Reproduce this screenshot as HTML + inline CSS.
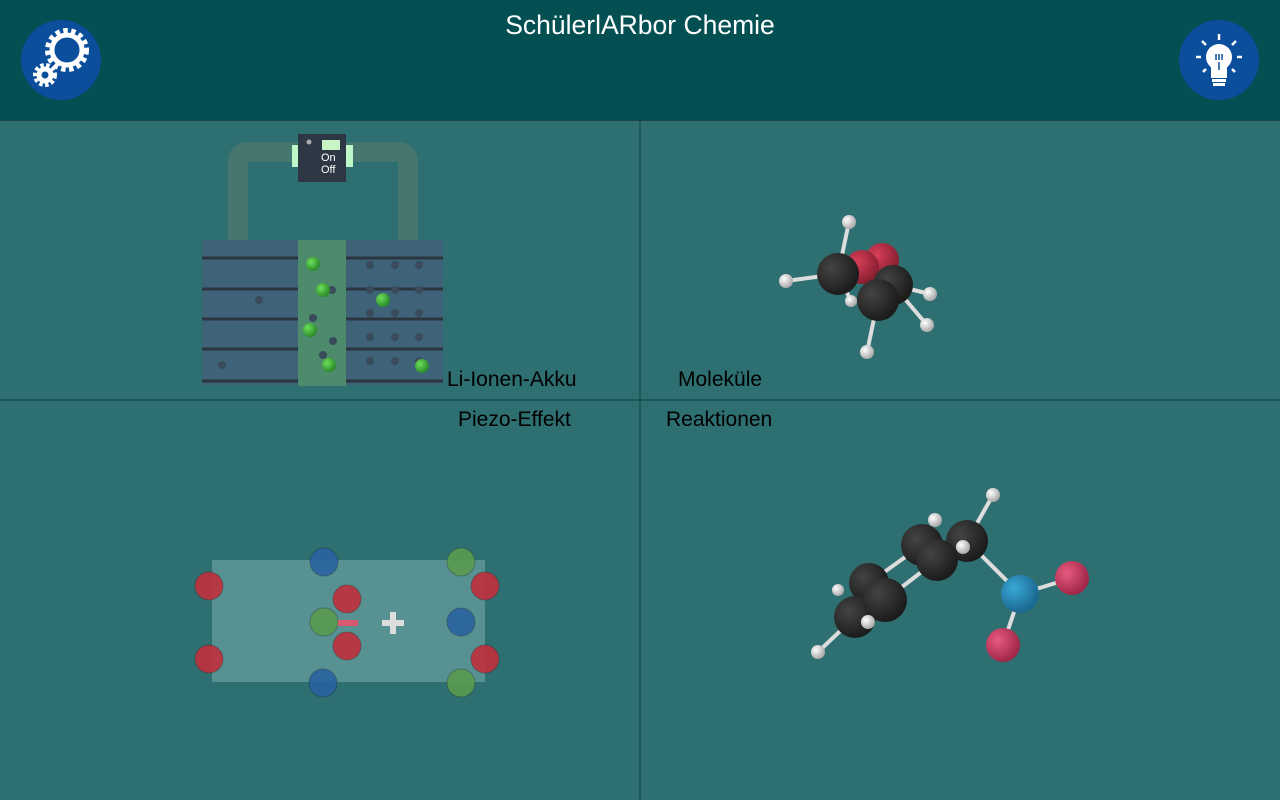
<!DOCTYPE html>
<html><head><meta charset="utf-8"><style>
html,body{margin:0;padding:0;width:1280px;height:800px;overflow:hidden;background:#2e6f71;font-family:"Liberation Sans",sans-serif}
.hdr{position:absolute;left:0;top:0;width:1280px;height:120px;background:#034f52;border-bottom:1px solid #1e4446}
.t{position:absolute;left:0;width:1280px;text-align:center;top:10px;color:#fff;font-size:26.5px}
.lbl{position:absolute;font-size:21px;color:#000}
</style></head><body>
<div class="hdr"></div>
<div class="t">SchülerlARbor Chemie</div>
<svg width="1280" height="800" style="position:absolute;left:0;top:0">
<defs>
<radialGradient id="bk" cx="35%" cy="35%" r="65%"><stop offset="0" stop-color="#444"/><stop offset="1" stop-color="#1c1c1c"/></radialGradient>
<radialGradient id="rd" cx="35%" cy="35%" r="65%"><stop offset="0" stop-color="#d8405a"/><stop offset="1" stop-color="#8a1e30"/></radialGradient>
<radialGradient id="pk" cx="35%" cy="35%" r="65%"><stop offset="0" stop-color="#e85a80"/><stop offset="1" stop-color="#a02848"/></radialGradient>
<radialGradient id="wh" cx="35%" cy="35%" r="65%"><stop offset="0" stop-color="#fff"/><stop offset="1" stop-color="#aaa"/></radialGradient>
<radialGradient id="bl" cx="35%" cy="35%" r="65%"><stop offset="0" stop-color="#3aa8d8"/><stop offset="1" stop-color="#1a6890"/></radialGradient>
<radialGradient id="gr" cx="35%" cy="35%" r="65%"><stop offset="0" stop-color="#6ee05a"/><stop offset="1" stop-color="#2a8a2a"/></radialGradient>
</defs>
<line x1="640" y1="121" x2="640" y2="800" stroke="#1f5658" stroke-width="2"/>
<line x1="0" y1="400" x2="1280" y2="400" stroke="#1f5658" stroke-width="2"/>
<!-- settings icon -->
<circle cx="61" cy="60" r="40" fill="#0a4e9c"/>
<g fill="none" stroke="#fff">
<circle cx="67" cy="50" r="15" stroke-width="5"/>
<circle cx="67" cy="50" r="19.5" stroke-width="5" stroke-dasharray="4.5 3.5"/>
<circle cx="45" cy="75" r="6" stroke-width="5"/>
<circle cx="45" cy="75" r="10" stroke-width="4" stroke-dasharray="3.5 2.5"/>
</g>
<!-- bulb icon -->
<circle cx="1219" cy="60" r="40" fill="#0a4e9c"/>
<circle cx="1219" cy="57" r="13" fill="#fff"/>
<rect x="1211" y="64" width="16" height="14" fill="#fff"/>
<rect x="1212" y="79" width="14" height="3" fill="#fff"/><rect x="1213" y="83" width="12" height="3" fill="#fff"/>
<g stroke="#fff" stroke-width="2.5"><line x1="1219" y1="34" x2="1219" y2="40"/><line x1="1202" y1="41" x2="1206" y2="45"/><line x1="1236" y1="41" x2="1232" y2="45"/><line x1="1196" y1="57" x2="1201" y2="57"/><line x1="1237" y1="57" x2="1242" y2="57"/><line x1="1203" y1="72" x2="1206" y2="69"/><line x1="1235" y1="72" x2="1232" y2="69"/></g>
<g stroke="#0a4e9c" stroke-width="1.5"><line x1="1216" y1="54" x2="1216" y2="60"/><line x1="1219" y1="54" x2="1219" y2="60"/><line x1="1222" y1="54" x2="1222" y2="60"/><line x1="1219" y1="62" x2="1219" y2="70"/></g>
<!-- battery -->
<path d="M238 242 V162 Q238 152 248 152 H398 Q408 152 408 162 V242" fill="none" stroke="#467670" stroke-width="20"/>
<rect x="292" y="145" width="8" height="22" fill="#bff8c8"/><rect x="345" y="145" width="8" height="22" fill="#bff8c8"/>
<rect x="298" y="134" width="48" height="48" fill="#2e3844"/>
<rect x="322" y="140" width="18" height="10" fill="#c9f5c6"/><circle cx="309" cy="142" r="2.5" fill="#aaa"/>
<text x="321" y="161" fill="#fff" font-size="11">On</text><text x="321" y="173" fill="#fff" font-size="11">Off</text>
<rect x="202" y="240" width="241" height="145" fill="#3e6378"/>
<rect x="298" y="240" width="48" height="146" fill="#4e8a6c"/>
<g stroke="#2c3440" stroke-width="3"><line x1="202" y1="258" x2="298" y2="258"/><line x1="346" y1="258" x2="443" y2="258"/><line x1="202" y1="289" x2="298" y2="289"/><line x1="346" y1="289" x2="443" y2="289"/><line x1="202" y1="319" x2="298" y2="319"/><line x1="346" y1="319" x2="443" y2="319"/><line x1="202" y1="349" x2="298" y2="349"/><line x1="346" y1="349" x2="443" y2="349"/><line x1="202" y1="381" x2="298" y2="381"/><line x1="346" y1="381" x2="443" y2="381"/></g>
<g fill="#3a4c5c"><circle cx="370" cy="265" r="4"/><circle cx="395" cy="265" r="4"/><circle cx="419" cy="265" r="4"/><circle cx="370" cy="290" r="4"/><circle cx="395" cy="290" r="4"/><circle cx="419" cy="290" r="4"/><circle cx="370" cy="313" r="4"/><circle cx="395" cy="313" r="4"/><circle cx="419" cy="313" r="4"/><circle cx="370" cy="337" r="4"/><circle cx="395" cy="337" r="4"/><circle cx="419" cy="337" r="4"/><circle cx="370" cy="361" r="4"/><circle cx="395" cy="361" r="4"/><circle cx="419" cy="361" r="4"/><circle cx="259" cy="300" r="4"/><circle cx="222" cy="365" r="4"/><circle cx="332" cy="290" r="4"/><circle cx="313" cy="318" r="4"/><circle cx="333" cy="341" r="4"/><circle cx="323" cy="355" r="4"/></g>
<circle cx="313" cy="264" r="7" fill="url(#gr)"/><circle cx="323" cy="290" r="7" fill="url(#gr)"/><circle cx="310" cy="330" r="7" fill="url(#gr)"/><circle cx="329" cy="365" r="7" fill="url(#gr)"/><circle cx="383" cy="300" r="7" fill="url(#gr)"/><circle cx="422" cy="366" r="7" fill="url(#gr)"/>
<!-- molecule 1 -->
<g stroke="#ddd" stroke-width="4"><line x1="838" y1="274" x2="849" y2="222"/><line x1="838" y1="274" x2="786" y2="281"/><line x1="838" y1="274" x2="851" y2="301"/><line x1="893" y1="285" x2="930" y2="294"/><line x1="893" y1="285" x2="927" y2="325"/><line x1="878" y1="300" x2="867" y2="352"/></g>
<circle cx="882" cy="260" r="17" fill="url(#rd)"/><circle cx="862" cy="267" r="17" fill="url(#rd)"/>
<circle cx="838" cy="274" r="21" fill="url(#bk)"/><circle cx="893" cy="285" r="20" fill="url(#bk)"/><circle cx="851" cy="301" r="6" fill="url(#wh)"/><circle cx="878" cy="300" r="21" fill="url(#bk)"/>
<g fill="url(#wh)"><circle cx="849" cy="222" r="7"/><circle cx="786" cy="281" r="7"/><circle cx="930" cy="294" r="7"/><circle cx="927" cy="325" r="7"/><circle cx="867" cy="352" r="7"/></g>
<!-- molecule 2 -->
<g stroke="#ddd" stroke-width="4"><line x1="967" y1="541" x2="993" y2="495"/><line x1="967" y1="541" x2="1020" y2="594"/><line x1="1020" y1="594" x2="1072" y2="578"/><line x1="1020" y1="594" x2="1003" y2="645"/><line x1="855" y1="617" x2="818" y2="652"/><line x1="885" y1="600" x2="937" y2="560"/><line x1="869" y1="583" x2="922" y2="545"/></g>
<circle cx="935" cy="520" r="7" fill="url(#wh)"/>
<circle cx="922" cy="545" r="21" fill="url(#bk)"/><circle cx="967" cy="541" r="21" fill="url(#bk)"/><circle cx="937" cy="560" r="21" fill="url(#bk)"/><circle cx="963" cy="547" r="7" fill="url(#wh)"/>
<circle cx="838" cy="590" r="6" fill="url(#wh)"/>
<circle cx="869" cy="583" r="20" fill="url(#bk)"/><circle cx="855" cy="617" r="21" fill="url(#bk)"/><circle cx="885" cy="600" r="22" fill="url(#bk)"/>
<circle cx="868" cy="622" r="7" fill="url(#wh)"/>
<circle cx="993" cy="495" r="7" fill="url(#wh)"/><circle cx="818" cy="652" r="7" fill="url(#wh)"/>
<circle cx="1020" cy="594" r="19" fill="url(#bl)"/><circle cx="1072" cy="578" r="17" fill="url(#pk)"/><circle cx="1003" cy="645" r="17" fill="url(#pk)"/>
<!-- piezo -->
<rect x="212" y="560" width="273" height="122" fill="#8ababa" fill-opacity="0.45"/>
<g fill-opacity="0.9" stroke="#222" stroke-opacity="0.3">
<circle cx="209" cy="586" r="14" fill="#c0303c"/><circle cx="209" cy="659" r="14" fill="#c0303c"/>
<circle cx="324" cy="562" r="14" fill="#2a62a0"/><circle cx="323" cy="683" r="14" fill="#2a62a0"/>
<circle cx="347" cy="599" r="14" fill="#c0303c"/><circle cx="347" cy="646" r="14" fill="#c0303c"/><circle cx="324" cy="622" r="14" fill="#5a9a50"/>
<circle cx="461" cy="562" r="14" fill="#5a9a50"/><circle cx="485" cy="586" r="14" fill="#c0303c"/><circle cx="461" cy="622" r="14" fill="#2a62a0"/><circle cx="485" cy="659" r="14" fill="#c0303c"/><circle cx="461" cy="683" r="14" fill="#5a9a50"/>
</g>
<rect x="338" y="620" width="20" height="6" fill="#d85a70"/>
<rect x="382" y="620" width="22" height="6" fill="#ddd"/><rect x="390" y="612" width="6" height="22" fill="#ddd"/>
</svg>
<div class="lbl" style="left:447px;top:368px">Li-Ionen-Akku</div>
<div class="lbl" style="left:678px;top:368px">Moleküle</div>
<div class="lbl" style="left:458px;top:408px">Piezo-Effekt</div>
<div class="lbl" style="left:666px;top:408px">Reaktionen</div>
</body></html>
